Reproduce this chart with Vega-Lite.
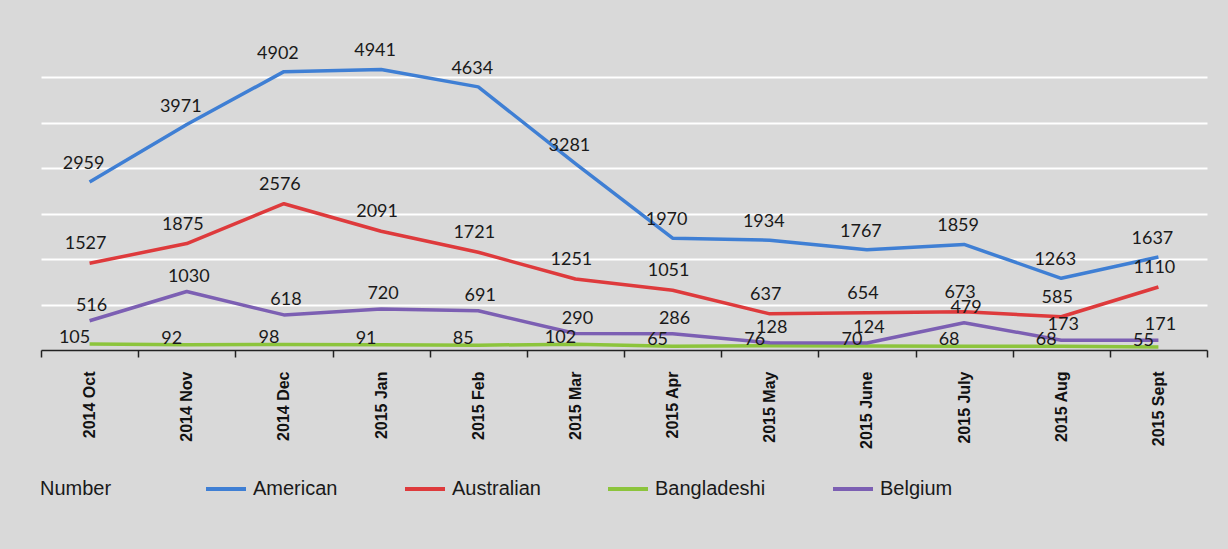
{
  "$schema": "https://vega.github.io/schema/vega-lite/v6.json",
  "width": 1166,
  "height": 318,
  "autosize": {"type": "none"},
  "padding": {"left": 41, "top": 32, "right": 21, "bottom": 199},
  "background": "#d9d9d9",
  "config": {"view": {"stroke": null}, "font": "Liberation Sans"},
  "data": {
    "values": [
      {"month": "2014 Oct", "series": "American", "value": 2959},
      {"month": "2014 Nov", "series": "American", "value": 3971},
      {"month": "2014 Dec", "series": "American", "value": 4902},
      {"month": "2015 Jan", "series": "American", "value": 4941},
      {"month": "2015 Feb", "series": "American", "value": 4634},
      {"month": "2015 Mar", "series": "American", "value": 3281},
      {"month": "2015 Apr", "series": "American", "value": 1970},
      {"month": "2015 May", "series": "American", "value": 1934},
      {"month": "2015 June", "series": "American", "value": 1767},
      {"month": "2015 July", "series": "American", "value": 1859},
      {"month": "2015 Aug", "series": "American", "value": 1263},
      {"month": "2015 Sept", "series": "American", "value": 1637},
      {"month": "2014 Oct", "series": "Australian", "value": 1527},
      {"month": "2014 Nov", "series": "Australian", "value": 1875},
      {"month": "2014 Dec", "series": "Australian", "value": 2576},
      {"month": "2015 Jan", "series": "Australian", "value": 2091},
      {"month": "2015 Feb", "series": "Australian", "value": 1721},
      {"month": "2015 Mar", "series": "Australian", "value": 1251},
      {"month": "2015 Apr", "series": "Australian", "value": 1051},
      {"month": "2015 May", "series": "Australian", "value": 637},
      {"month": "2015 June", "series": "Australian", "value": 654},
      {"month": "2015 July", "series": "Australian", "value": 673},
      {"month": "2015 Aug", "series": "Australian", "value": 585},
      {"month": "2015 Sept", "series": "Australian", "value": 1110},
      {"month": "2014 Oct", "series": "Bangladeshi", "value": 105},
      {"month": "2014 Nov", "series": "Bangladeshi", "value": 92},
      {"month": "2014 Dec", "series": "Bangladeshi", "value": 98},
      {"month": "2015 Jan", "series": "Bangladeshi", "value": 91},
      {"month": "2015 Feb", "series": "Bangladeshi", "value": 85},
      {"month": "2015 Mar", "series": "Bangladeshi", "value": 102},
      {"month": "2015 Apr", "series": "Bangladeshi", "value": 65},
      {"month": "2015 May", "series": "Bangladeshi", "value": 76},
      {"month": "2015 June", "series": "Bangladeshi", "value": 70},
      {"month": "2015 July", "series": "Bangladeshi", "value": 68},
      {"month": "2015 Aug", "series": "Bangladeshi", "value": 68},
      {"month": "2015 Sept", "series": "Bangladeshi", "value": 55},
      {"month": "2014 Oct", "series": "Belgium", "value": 516},
      {"month": "2014 Nov", "series": "Belgium", "value": 1030},
      {"month": "2014 Dec", "series": "Belgium", "value": 618},
      {"month": "2015 Jan", "series": "Belgium", "value": 720},
      {"month": "2015 Feb", "series": "Belgium", "value": 691},
      {"month": "2015 Mar", "series": "Belgium", "value": 290},
      {"month": "2015 Apr", "series": "Belgium", "value": 286},
      {"month": "2015 May", "series": "Belgium", "value": 128},
      {"month": "2015 June", "series": "Belgium", "value": 124},
      {"month": "2015 July", "series": "Belgium", "value": 479},
      {"month": "2015 Aug", "series": "Belgium", "value": 173},
      {"month": "2015 Sept", "series": "Belgium", "value": 171}
    ]
  },
  "encoding": {
    "x": {
      "field": "month",
      "type": "ordinal",
      "sort": null,
      "scale": {"type": "band", "paddingInner": 0, "paddingOuter": 0},
      "axis": {
        "title": null,
        "labelAngle": -90,
        "labelFont": "Liberation Sans",
        "labelFontWeight": "bold",
        "labelFontSize": 16,
        "labelColor": "#111111",
        "labelPadding": 14,
        "tickBand": "extent",
        "tickSize": 7,
        "tickColor": "#222222",
        "tickWidth": 1.5,
        "domainColor": "#222222",
        "domainWidth": 1.5,
        "grid": false
      }
    },
    "y": {
      "field": "value",
      "type": "quantitative",
      "scale": {"domain": [0, 5600], "nice": false},
      "axis": {
        "title": null,
        "values": [800, 1600, 2400, 3200, 4000, 4800],
        "grid": true,
        "gridColor": "#ffffff",
        "gridWidth": 2,
        "domain": false,
        "ticks": false,
        "labels": false
      }
    }
  },
  "layer": [
    {
      "mark": {"type": "line", "strokeWidth": 3.5, "strokeJoin": "round"},
      "encoding": {
        "color": {
          "field": "series",
          "type": "nominal",
          "scale": {
            "domain": ["American", "Australian", "Bangladeshi", "Belgium"],
            "range": ["#3f7fd4", "#de3a3c", "#8cc43c", "#7c5fb3"]
          },
          "legend": {
            "orient": "none",
            "legendX": -1,
            "legendY": 435,
            "direction": "horizontal",
            "title": "Number",
            "titleOrient": "left",
            "titleAnchor": "middle",
            "titleBaseline": "line-top",
            "titleLineHeight": 12,
            "titleFont": "Liberation Sans",
            "titleFontSize": 20,
            "titleFontWeight": "normal",
            "titleColor": "#1a1a1a",
            "titlePadding": 92,
            "labelFont": "Liberation Sans",
            "labelFontSize": 20,
            "labelColor": "#1a1a1a",
            "labelOffset": 5,
            "columnPadding": 59,
            "symbolType": "stroke",
            "symbolSize": 1600,
            "symbolStrokeWidth": 4
          }
        }
      }
    },
    {
      "transform": [{"filter": "datum.series === 'American'"}],
      "mark": {"type": "text", "font": "Lato", "fontSize": 18, "color": "#1a1a1a", "dy": -18, "dx": -6},
      "encoding": {
        "detail": {"field": "series"},
        "text": {"field": "value", "type": "quantitative", "format": "d"}
      }
    },
    {
      "transform": [{"filter": "datum.series === 'Australian'"}],
      "mark": {"type": "text", "font": "Lato", "fontSize": 18, "color": "#1a1a1a", "dy": -19, "dx": -4},
      "encoding": {
        "detail": {"field": "series"},
        "text": {"field": "value", "type": "quantitative", "format": "d"}
      }
    },
    {
      "transform": [{"filter": "datum.series === 'Belgium'"}],
      "mark": {"type": "text", "font": "Lato", "fontSize": 18, "color": "#1a1a1a", "dy": -15, "dx": 2},
      "encoding": {
        "detail": {"field": "series"},
        "text": {"field": "value", "type": "quantitative", "format": "d"}
      }
    },
    {
      "transform": [{"filter": "datum.series === 'Bangladeshi'"}],
      "mark": {"type": "text", "font": "Lato", "fontSize": 18, "color": "#1a1a1a", "dy": -6, "dx": -15},
      "encoding": {
        "detail": {"field": "series"},
        "text": {"field": "value", "type": "quantitative", "format": "d"}
      }
    }
  ]
}
